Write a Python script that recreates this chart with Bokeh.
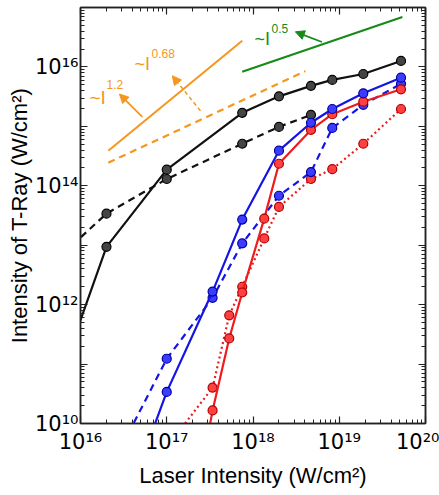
from bokeh.plotting import figure
from bokeh.models import LogAxis, FixedTicker, Label, Arrow, NormalHead, CustomJSTickFormatter
from bokeh.embed import file_html
from bokeh.resources import INLINE

# ---- measured T-ray intensity vs laser intensity ----
x_black = [8e15, 2e16, 1e17, 7.5e17, 2e18, 4.7e18, 8.3e18, 1.9e19, 5.2e19]
black_solid = [2.2e11, 9.4e12, 1.87e14, 1.69e15, 3.2e15, 4.8e15, 6.05e15, 7.6e15, 1.26e16]

x_black_dash = [5e15, 2e16, 1e17, 7.5e17, 2e18, 4.7e18]
black_dashed = [5.3e12, 3.4e13, 1.3e14, 5.1e14, 9.8e14, 1.56e15]

x_blue = [2e16, 1e17, 3.4e17, 7.5e17, 2e18, 4.7e18, 8.3e18, 1.9e19, 5.2e19]
blue_solid = [6e7, 3.4e10, 1.66e12, 2.7e13, 3.9e14, 1.15e15, 1.96e15, 3.6e15, 6.6e15]
blue_dashed = [1.3e9, 1.23e11, 1.3e12, 1.07e13, 6.8e13, 1.7e14, 9.4e14, 2.3e15, 5.2e15]

x_red = [1e17, 3.4e17, 5.3e17, 7.5e17, 1.35e18, 2e18, 4.7e18, 8.3e18, 1.9e19, 5.2e19]
red_solid = [1e6, 1.66e10, 2.7e11, 1.6e12, 2.8e13, 2.35e14, 8.7e14, 1.6e15, 2.6e15, 4.2e15]
red_dotted = [4e9, 4e10, 6.6e11, 2e12, 1.3e13, 4.4e13, 1.3e14, 1.9e14, 5.1e14, 1.96e15]

# ---- power-law guide lines ----
guide_12_x = [2.1e16, 7.5e17]
guide_12_y = [3.9e14, 2.75e16]
guide_068_x = [2.1e16, 4.05e18]
guide_068_y = [2.45e14, 8.5e15]
guide_05_x = [7.5e17, 5.4e19]
guide_05_y = [8.3e15, 6.9e16]

# ---- tick labels ----
x_tick_exps = [16, 17, 18, 19, 20]
x_tick_labels = ["10¹⁶", "10¹⁷", "10¹⁸", "10¹⁹", "10²⁰"]
y_tick_exps = [10, 12, 14, 16]
y_tick_labels = ["10¹⁰", "10¹²", "10¹⁴", "10¹⁶"]

ORANGE = "#F5961E"
GREEN = "#178B17"
BLUE = "#1414E6"
RED = "#EE1C1C"
FONT = "Liberation Sans"
TICK_FONT = "DejaVu Sans"

W, H = 439, 495
X0, X1 = 1e16, 1e20
Y0, Y1 = 1e10, 1e17

p = figure(width=W, height=H, x_axis_type="log", y_axis_type="log",
           x_range=(X0, X1), y_range=(Y0, Y1),
           output_backend="svg", toolbar_location=None,
           min_border_left=80, min_border_right=14,
           min_border_top=7, min_border_bottom=72)
p.grid.visible = False
p.outline_line_color = "#222222"
p.outline_line_width = 1.5
p.background_fill_color = "white"
p.border_fill_color = "white"

# ---- axes: inward ticks on all four sides ----
xt = FixedTicker(ticks=[10.0 ** e for e in range(16, 21)],
                 minor_ticks=[k * 10.0 ** e for e in range(16, 20) for k in range(2, 10)])
yt = FixedTicker(ticks=[10.0 ** e for e in range(10, 18)],
                 minor_ticks=[k * 10.0 ** e for e in range(10, 17) for k in range(2, 10)])

label_js = """
const e = Math.round(Math.log10(tick));
const i = exps.indexOf(e);
return i >= 0 ? texts[i] : "";
"""


def style_axis(ax, ticker, exps=None, texts=None):
    ax.ticker = ticker
    ax.major_tick_in = 7
    ax.major_tick_out = 0
    ax.minor_tick_in = 4
    ax.minor_tick_out = 0
    ax.axis_line_color = "#222222"
    ax.axis_line_width = 1.5
    ax.major_tick_line_color = "#222222"
    ax.minor_tick_line_color = "#222222"
    ax.major_tick_line_width = 1.2
    ax.minor_tick_line_width = 1.0
    if exps is None:
        ax.major_label_text_font_size = "1px"
        ax.major_label_text_alpha = 0
        ax.major_label_standoff = 0
    else:
        ax.formatter = CustomJSTickFormatter(args=dict(exps=exps, texts=texts), code=label_js)
        ax.major_label_text_font = TICK_FONT
        ax.major_label_text_font_size = "21px"
        ax.major_label_text_color = "black"
        ax.axis_label_text_font = FONT
        ax.axis_label_text_font_size = "22px"
        ax.axis_label_text_font_style = "normal"
        ax.axis_label_text_color = "black"


style_axis(p.xaxis[0], xt, x_tick_exps, x_tick_labels)
style_axis(p.yaxis[0], yt, y_tick_exps, y_tick_labels)
p.xaxis[0].axis_label = "Laser Intensity (W/cm²)"
p.yaxis[0].axis_label = "Intensity of T-Ray (W/cm²)"
p.xaxis[0].major_label_standoff = 6
p.xaxis[0].axis_label_standoff = 6
p.yaxis[0].major_label_standoff = 2
p.yaxis[0].axis_label_standoff = 0

top_ax = LogAxis()
right_ax = LogAxis()
style_axis(top_ax, xt)
style_axis(right_ax, yt)
p.add_layout(top_ax, "above")
p.add_layout(right_ax, "right")

# ---- guide lines ----
p.line(guide_12_x, guide_12_y, line_color=ORANGE, line_width=2)
p.line(guide_068_x, guide_068_y, line_color=ORANGE, line_width=2.2, line_dash="7 5")
p.line(guide_05_x, guide_05_y, line_color=GREEN, line_width=2.2)

p.add_layout(Arrow(end=NormalHead(size=9, fill_color=ORANGE, line_color=ORANGE),
                   x_start=5.2e16, y_start=1.45e15, x_end=2.83e16, y_end=3.5e15,
                   line_color=ORANGE, line_width=1.8))
p.add_layout(Arrow(end=NormalHead(size=9, fill_color=ORANGE, line_color=ORANGE),
                   x_start=2.46e17, y_start=1.82e15, x_end=1.16e17, y_end=7.1e15,
                   line_color=ORANGE, line_width=1.5, line_dash="4 3"))
p.add_layout(Arrow(end=NormalHead(size=9, fill_color=GREEN, line_color=GREEN),
                   x_start=6.3e18, y_start=2.63e16, x_end=3.1e18, y_end=3.9e16,
                   line_color=GREEN, line_width=1.8))

# ---- data series ----
series = [
    (x_black, black_solid, "#111111", "solid", "#444444", "#000000"),
    (x_black_dash, black_dashed, "#111111", "7 5", "#444444", "#000000"),
    (x_red, red_dotted, RED, "2 3", "#FF4040", "#B00000"),
    (x_blue, blue_dashed, BLUE, "7 5", "#3C3CFF", "#0000A0"),
    (x_red, red_solid, RED, "solid", "#FF4040", "#B00000"),
    (x_blue, blue_solid, BLUE, "solid", "#3C3CFF", "#0000A0"),
]
for xs, ys, col, dash, fill, edge in series:
    p.line(xs, ys, line_color=col, line_width=2.2, line_dash=dash)
    p.scatter(xs, ys, size=9, fill_color=fill, line_color=edge, line_width=1.2)

# ---- power-law annotations (~I with exponent) inside the frame ----
fw = 439 - 80 - 14
fh = 495 - 7 - 72


def dx(px):
    return 10 ** (16 + (px - 80) / fw * 4)


def dy(py):
    return 10 ** (10 + (423 - py) / fh * 7)


def add_text(px, py, text, size, color):
    p.add_layout(Label(x=dx(px), y=dy(py), text=text, text_font=FONT,
                       text_font_size=f"{size}px", text_color=color,
                       text_align="left", text_baseline="alphabetic"))


add_text(89, 97, "~I", 19, ORANGE)
add_text(106, 84, "1.2", 12, ORANGE)
add_text(134, 63, "~I", 18, ORANGE)
add_text(151, 53, "0.68", 12, ORANGE)
add_text(254, 38, "~I", 18, GREEN)
add_text(271, 28, "0.5", 12, GREEN)

open("out.html", "w").write(file_html(p, INLINE))
